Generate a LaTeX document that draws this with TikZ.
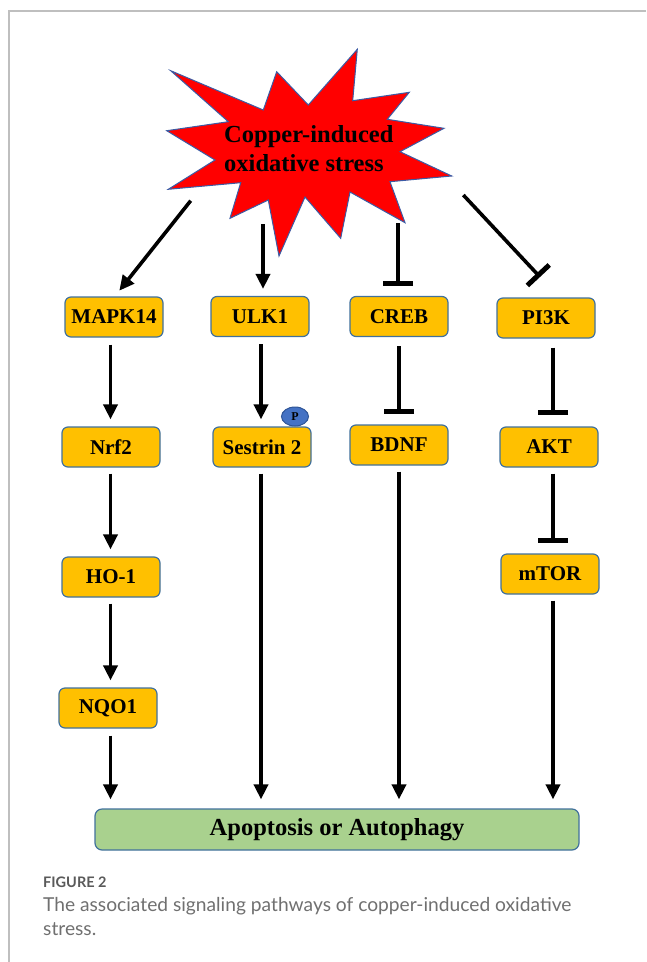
\documentclass[tikz,border=0pt]{standalone}
\usepackage{fontspec}
\setmainfont{Liberation Serif}
\newfontfamily\capfont{Lato}
\usetikzlibrary{arrows.meta,shapes.geometric}
\definecolor{boxorange}{HTML}{FFC000}
\definecolor{boxblue}{HTML}{41719C}
\definecolor{boxgreen}{HTML}{A9D18E}
\definecolor{starred}{HTML}{FF0000}
\definecolor{starblue}{HTML}{3B5BA5}
\definecolor{pblue}{HTML}{4472C4}
\definecolor{pborder}{HTML}{2F5597}
\definecolor{framegray}{HTML}{BFBFBF}
\definecolor{capgray}{HTML}{707070}
\definecolor{capdark}{HTML}{5A5A5A}
\tikzset{
  gbox/.style={draw=boxblue, line width=1.2pt, fill=boxorange, rounded corners=6pt,
    minimum width=98pt, minimum height=40pt, inner sep=0pt,
    font=\fontsize{21}{25}\selectfont\bfseries},
  endbox/.style={draw=boxblue, line width=1.2pt, fill=boxgreen, rounded corners=7pt,
    minimum width=484pt, minimum height=41pt, inner sep=0pt,
    font=\fontsize{24.5}{29}\selectfont\bfseries},
  startext/.style={anchor=base west, inner sep=0pt, font=\fontsize{24.5}{29}\selectfont\bfseries},
  captext/.style={anchor=base west, inner sep=0pt, text=capgray, font=\capfont\fontsize{19.2}{23}\selectfont},
  arr/.style={line width=3.6pt, -{Triangle[width=14pt,length=15pt]}},
  inh/.style={line width=3.6pt, -{Bar[width=30pt,line width=5pt]}},
}
\begin{document}
\begin{tikzpicture}[x=1pt,y=-1pt]
\useasboundingbox (0,0) rectangle (646,962);
\fill[white] (0,0) rectangle (646,962);
\draw[framegray, line width=1.5pt] (646,11) -- (9,11) -- (9,962);

% star
\draw[fill=starred, draw=starblue, line width=1pt, line join=miter]
  (170.7,70.7) -- (263.3,110) -- (276.7,71.7) -- (308.3,105) -- (357.3,49.3)
  -- (352.7,100.7) -- (409.3,92.3) -- (387.3,119.3) -- (444,128.3) -- (400,151.7)
  -- (451.7,176) -- (390,181.7) -- (405,222.7) -- (350,192) -- (340.7,238.3)
  -- (305,197) -- (279,256) -- (268.3,200) -- (230,218.3) -- (240.7,182.7)
  -- (168.3,189.3) -- (215,160) -- (166.7,130.7) -- (228.3,121.7) -- cycle;
\node[startext] (star1) at (224,142) {Copper-induced};
\node[startext] (star2) at (224,171) {oxidative stress};

% boxes
\node[gbox] (mapk) at (114,317) {MAPK14};
\node[gbox] (ulk)  at (260,316.5) {ULK1};
\node[gbox] (creb) at (399,316.5) {CREB};
\node[gbox] (pi3k) at (546,318) {PI3K};
\node[gbox] (nrf)  at (111,447) {Nrf2};
\node[gbox] (ses)  at (262,447) {Sestrin 2};
\node[gbox] (bdnf) at (399,445) {BDNF};
\node[gbox] (akt)  at (549,447) {AKT};
\node[gbox] (ho)   at (111,577) {HO-1};
\node[gbox] (mtor) at (550,574) {mTOR};
\node[gbox] (nqo)  at (108,708) {NQO1};
\node[endbox] (apo) at (337,829.5) {Apoptosis or Autophagy};

% phosphate
\node[ellipse, draw=pborder, line width=1pt, fill=pblue, minimum width=27pt, minimum height=19pt,
  inner sep=0pt, font=\fontsize{12}{12}\selectfont\bfseries] (pp) at (295,416.5) {P};

% column coordinates
\coordinate (c1) at (110.5,0);
\coordinate (c2) at (261,0);
\coordinate (c3) at (399,0);
\coordinate (c4) at (553,0);

% from the star
\coordinate (s1) at (190.7,200.7);
\coordinate (t1) at (119.3,290.7);
\coordinate (s2) at (263,224);
\coordinate (s3) at (398,223);
\coordinate (s4) at (463.3,195);
\coordinate (t4) at (540,277);
\draw[arr] (s1) -- (t1);
\draw[arr, shorten >=7pt] (s2) -- (ulk.north -| s2);
\draw[inh, shorten >=10pt] (s3) -- (creb.north -| s3);
\draw[inh] (s4) -- (t4);

% columns
\draw[arr, shorten <=7pt, shorten >=7pt] (mapk.south -| c1) -- (nrf.north -| c1);
\draw[arr, shorten <=6pt, shorten >=7pt] (nrf.south -| c1) -- (ho.north -| c1);
\draw[arr, shorten <=6pt, shorten >=7pt] (ho.south -| c1) -- (nqo.north -| c1);
\draw[arr, shorten <=7pt, shorten >=9pt] (nqo.south -| c1) -- (apo.north -| c1);

\draw[arr, shorten <=7pt, shorten >=7pt] (ulk.south -| c2) -- (ses.north -| c2);
\draw[arr, shorten <=6pt, shorten >=9pt] (ses.south -| c2) -- (apo.north -| c2);

\draw[inh, shorten <=9pt, shorten >=10pt] (creb.south -| c3) -- (bdnf.north -| c3);
\draw[arr, shorten <=6pt, shorten >=9pt] (bdnf.south -| c3) -- (apo.north -| c3);

\draw[inh, shorten <=9pt, shorten >=11pt] (pi3k.south -| c4) -- (akt.north -| c4);
\draw[inh, shorten <=6pt, shorten >=10pt] (akt.south -| c4) -- (mtor.north -| c4);
\draw[arr, shorten <=6pt, shorten >=9pt] (mtor.south -| c4) -- (apo.north -| c4);

% caption
\node[captext, text=capdark, font=\capfont\bfseries\fontsize{14.5}{17}\selectfont] (fig) at (43,887) {FIGURE 2};
\node[captext] (cap1) at (43,911.5) {The associated signaling pathways of copper-induced oxidative};
\node[captext] (cap2) at (43,935.5) {stress.};
\end{tikzpicture}
\end{document}
